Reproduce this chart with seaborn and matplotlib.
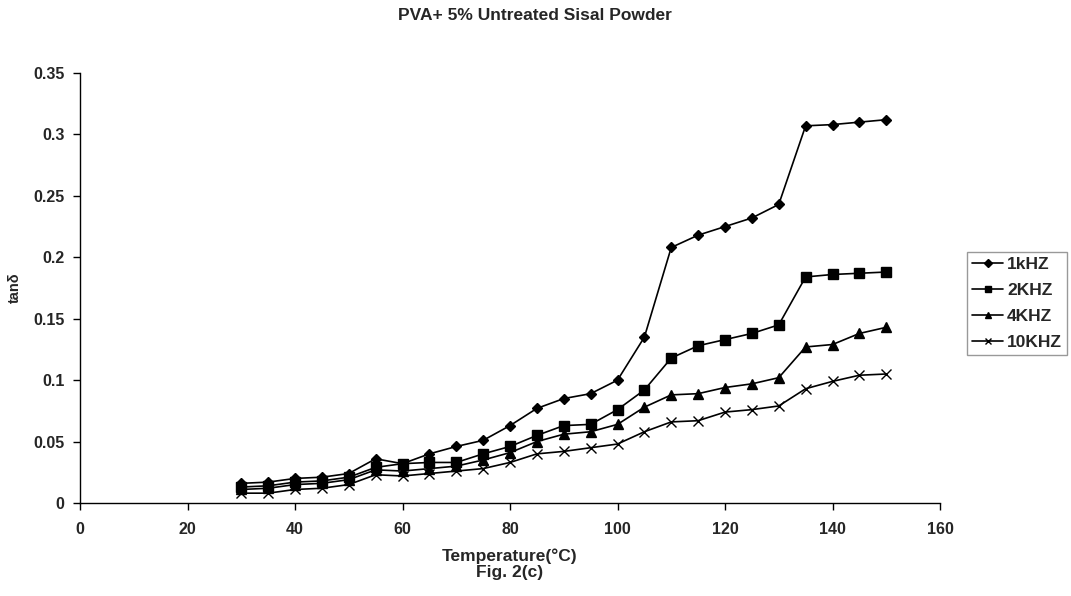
import matplotlib
matplotlib.use("Agg")
import matplotlib.pyplot as plt
import seaborn as sns
import pandas as pd

temperature = [30, 35, 40, 45, 50, 55, 60, 65, 70, 75, 80, 85, 90, 95, 100,
               105, 110, 115, 120, 125, 130, 135, 140, 145, 150]
tan_1khz = [0.016, 0.017, 0.020, 0.021, 0.024, 0.036, 0.032, 0.040, 0.046, 0.051,
            0.063, 0.077, 0.085, 0.089, 0.100, 0.135, 0.208, 0.218, 0.225, 0.232,
            0.243, 0.307, 0.308, 0.310, 0.312]
tan_2khz = [0.013, 0.014, 0.017, 0.018, 0.021, 0.029, 0.032, 0.033, 0.033, 0.040,
            0.046, 0.055, 0.063, 0.064, 0.076, 0.092, 0.118, 0.128, 0.133, 0.138,
            0.145, 0.184, 0.186, 0.187, 0.188]
tan_4khz = [0.011, 0.012, 0.015, 0.016, 0.019, 0.027, 0.026, 0.028, 0.030, 0.035,
            0.041, 0.050, 0.056, 0.058, 0.064, 0.078, 0.088, 0.089, 0.094, 0.097,
            0.102, 0.127, 0.129, 0.138, 0.143]
tan_10khz = [0.008, 0.008, 0.011, 0.012, 0.015, 0.023, 0.022, 0.024, 0.026, 0.028,
             0.033, 0.040, 0.042, 0.045, 0.048, 0.058, 0.066, 0.067, 0.074, 0.076,
             0.079, 0.093, 0.099, 0.104, 0.105]
series_names = ["1kHZ", "2KHZ", "4KHZ", "10KHZ"]
x_ticks = [0, 20, 40, 60, 80, 100, 120, 140, 160]
y_ticks = [0, 0.05, 0.1, 0.15, 0.2, 0.25, 0.3, 0.35]
y_tick_labels = ["0", "0.05", "0.1", "0.15", "0.2", "0.25", "0.3", "0.35"]

sns.set_theme(style="white")
plt.rcParams["font.family"] = ["Liberation Sans", "DejaVu Sans"]

frames = []
for name, vals in zip(series_names, [tan_1khz, tan_2khz, tan_4khz, tan_10khz]):
    frames.append(pd.DataFrame({"Temperature": temperature, "tan": vals, "Freq": name}))
df = pd.concat(frames, ignore_index=True)

fig = plt.figure(figsize=(10.71, 5.96), dpi=100)
ax = fig.add_axes([80 / 1071, 1 - 503 / 596, 860 / 1071, 430 / 596])

markers = {"1kHZ": "D", "2KHZ": "s", "4KHZ": "^", "10KHZ": "x"}
sizes = {"1kHZ": 5.5, "2KHZ": 6.5, "4KHZ": 6.5, "10KHZ": 7}
for name in series_names:
    sub = df[df["Freq"] == name]
    sns.lineplot(data=sub, x="Temperature", y="tan", ax=ax, color="black",
                 linewidth=1.2, marker=markers[name], markersize=sizes[name],
                 markeredgecolor="black", markerfacecolor="black",
                 markeredgewidth=1.0, label=name)

ax.set_xlim(0, 160)
ax.set_ylim(0, 0.35)
ax.set_xticks(x_ticks)
ax.set_xticklabels([str(t) for t in x_ticks])
ax.set_yticks(y_ticks)
ax.set_yticklabels(y_tick_labels)
for lab in ax.get_xticklabels() + ax.get_yticklabels():
    lab.set_fontweight("bold")
    lab.set_fontsize(11.5)
ax.tick_params(axis="both", direction="out", length=5, width=1, color="black",
               bottom=True, left=True)
ax.tick_params(axis="x", pad=9)
ax.tick_params(axis="y", pad=6)
for side in ["top", "right"]:
    ax.spines[side].set_visible(False)
for side in ["left", "bottom"]:
    ax.spines[side].set_color("black")
    ax.spines[side].set_linewidth(1)
ax.grid(False)

ax.set_xlabel("Temperature(°C)\nFig. 2(c)", fontsize=12.5, fontweight="bold", labelpad=8,
              linespacing=1.1)
ax.set_ylabel("tanδ", fontsize=10.5, fontweight="bold", labelpad=8)
fig.text(535 / 1071, 1 - 15 / 596, "PVA+ 5% Untreated Sisal Powder", ha="center",
         va="center", fontsize=12.5, fontweight="bold")

leg = ax.legend(loc="upper left", bbox_to_anchor=(967 / 1071, 1 - 252 / 596),
                bbox_transform=fig.transFigure, frameon=True, fancybox=False,
                prop={"weight": "bold", "size": 12.5}, handlelength=1.8,
                handletextpad=0.2, borderpad=0.3, labelspacing=0.62,
                borderaxespad=0)
leg.get_frame().set_edgecolor("#808080")
leg.get_frame().set_linewidth(1)
for h in leg.get_lines():
    h.set_markersize(4)

fig.savefig("out.png", dpi=100)
